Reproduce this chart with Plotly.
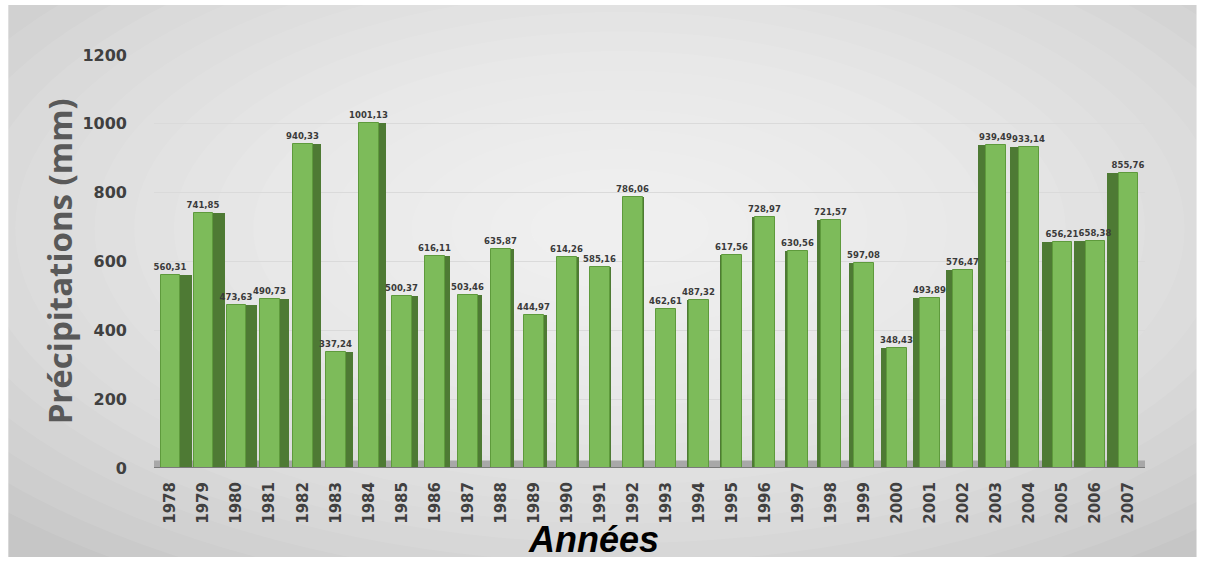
import plotly.graph_objects as go

years = [str(y) for y in range(1978, 2008)]
precip = [560.31, 741.85, 473.63, 490.73, 940.33, 337.24, 1001.13, 500.37, 616.11, 503.46,
          635.87, 444.97, 614.26, 585.16, 786.06, 462.61, 487.32, 617.56, 728.97, 630.56,
          721.57, 597.08, 348.43, 493.89, 576.47, 939.49, 933.14, 656.21, 658.38, 855.76]
y_ticks = [0, 200, 400, 600, 800, 1000, 1200]

n = len(years)
mid = (n - 1) / 2.0
front_w = 0.6
side_w = [0.36 * abs(i - mid) / mid for i in range(n)]
side_off = [front_w / 2 if i < mid else -front_w / 2 - side_w[i] for i in range(n)]
labels = [f"{v:.2f}".replace(".", ",") for v in precip]

fig = go.Figure()

# dark side faces (pseudo 3D)
fig.add_trace(go.Bar(
    x=list(range(n)), y=precip, width=side_w, offset=side_off,
    marker=dict(color="#4e7a34", line=dict(width=0)),
    hoverinfo="skip", showlegend=False,
))
# front faces
fig.add_trace(go.Bar(
    x=list(range(n)), y=precip, width=front_w,
    marker=dict(color="#7dbb5a", line=dict(color="#5e9a3c", width=1)),
    text=labels, textposition="outside", cliponaxis=False, constraintext="none",
    textfont=dict(family="DejaVu Sans", size=8.5, color="#3a3a3a"),
    texttemplate="<b>%{text}</b>",
    showlegend=False,
))

shapes = [
    # chart background
    dict(type="rect", xref="paper", yref="paper", x0=-0.147, x1=1.052, y0=-0.2155, y1=1.121,
         fillcolor="#c6c6c6", line=dict(width=0), layer="below"),
]
# radial light gradient
steps = 20
for k in range(steps):
    f = 1 - k / float(steps)
    cx, cy = 0.47, 0.58
    rx, ry = 0.8 * f + 0.05, 0.95 * f + 0.05
    shapes.append(dict(type="circle", xref="paper", yref="paper",
                       x0=cx - rx, x1=cx + rx, y0=cy - ry, y1=cy + ry,
                       fillcolor="rgba(255,255,255,0.08)", line=dict(width=0), layer="below"))
# floor
shapes.append(dict(type="rect", xref="x", yref="y", x0=-0.7, x1=n - 0.3, y0=0, y1=22,
                   fillcolor="#a8a8a8", line=dict(width=0), layer="below"))
shapes.append(dict(type="line", xref="x", yref="y", x0=-0.8, x1=n - 0.2, y0=0, y1=0,
                   line=dict(color="#7a7a7a", width=2), layer="above"))

fig.update_layout(
    width=1205, height=562,
    margin=dict(l=154, r=60, t=55, b=94),
    paper_bgcolor="white", plot_bgcolor="rgba(0,0,0,0)",
    barmode="overlay", bargap=0,
    shapes=shapes,
    xaxis=dict(
        tickmode="array", tickvals=list(range(n)), ticktext=[f"<b>{y}</b>" for y in years],
        tickangle=-90, range=[-0.5, n - 0.5], showgrid=False, zeroline=False,
        showline=False, ticks="", ticklabelstandoff=10,
        tickfont=dict(family="DejaVu Sans", size=15, color="#404040"),
    ),
    yaxis=dict(
        range=[0, 1200], tickvals=y_ticks, ticktext=[f"<b>{v}</b>" for v in y_ticks],
        showgrid=True, gridcolor="#dadada", gridwidth=1, zeroline=False, showline=False,
        ticks="", ticklabelstandoff=26,
        tickfont=dict(family="DejaVu Sans", size=16, color="#404040"),
    ),
    annotations=[
        dict(text="<b>Précipitations (mm)</b>", xref="paper", yref="paper", x=-0.095, y=0.5,
             xanchor="center", yanchor="middle", textangle=-90, showarrow=False,
             font=dict(family="Open Sans", size=33, color="#595959")),
        dict(text="<b><i>Années</i></b>", xref="paper", yref="paper", x=0.443, y=-0.224,
             xanchor="center", yanchor="bottom", showarrow=False, borderpad=0,
             font=dict(family="Liberation Sans", size=36, color="#000000")),
    ],
)

fig.write_html("out.html")
